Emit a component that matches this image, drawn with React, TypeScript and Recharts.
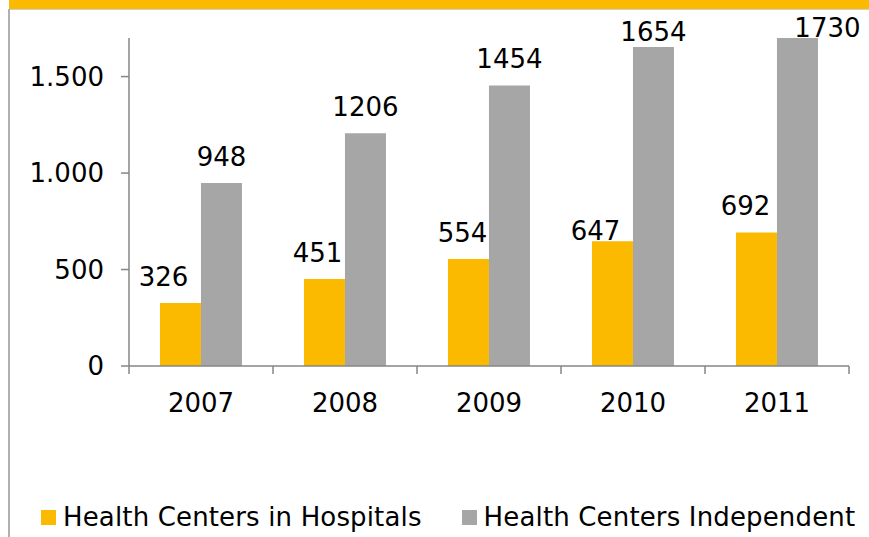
import { Bar, BarChart, LabelList, XAxis, YAxis } from 'recharts'

// Health centers by year, hospital-based vs independent.
// Excel-style look: yellow header strip, boundary ticks, labels nudged by hand.

const years = ['2007', '2008', '2009', '2010', '2011']
const inHospitals = [326, 451, 554, 647, 692]
const independent = [948, 1206, 1454, 1654, 1730]
const seriesNames = ['Health Centers in Hospitals', 'Health Centers Independent']
const yTicks = [0, 500, 1000, 1500]

// hand nudges of the value labels, [dx, dy] per year
const hospitalNudge = [[-17, 0], [-7, 0], [-6, 0], [-17, 16], [-11, 0]]
const independentNudge = [[0, 0], [0, 0], [0, 0], [0, 11], [30, 22]]

const YELLOW = '#fbb900'
const GRAY = '#a6a6a6'
const AXIS = '#868686'
const FONT = '"DejaVu Sans", Verdana, sans-serif'
const FS = 26

const W = 869
const H = 537
const PLOT_LEFT = 129
const PLOT_RIGHT = 20
const PLOT_W = W - PLOT_LEFT - PLOT_RIGHT

const data = years.map((year, i) => ({
  year,
  hospitals: inHospitals[i],
  independent: independent[i],
}))

function fmtThousands(v: number) {
  return String(v).replace(/\B(?=(\d{3})+(?!\d))/g, '.')
}

function makeLabel(nudges: number[][]) {
  return (props: any) => {
    const vb = props.viewBox ?? props
    const i = props.index ?? 0
    const [dx, dy] = nudges[i] ?? [0, 0]
    const cx = vb.x + vb.width / 2 + dx
    const top = Math.min(vb.y, vb.y + vb.height)
    return (
      <text x={cx} y={top - 17 + dy} textAnchor="middle" fontSize={FS} fontFamily={FONT} fill="#000">
        {props.value}
      </text>
    )
  }
}

function YearTick(props: any) {
  const { x, y, payload, index } = props
  const half = PLOT_W / years.length / 2
  const axisY = y - 24
  return (
    <g>
      <line x1={x - half} x2={x - half} y1={axisY} y2={axisY + 8} stroke={AXIS} strokeWidth={1.5} />
      {index === years.length - 1 && (
        <line x1={x + half} x2={x + half} y1={axisY} y2={axisY + 8} stroke={AXIS} strokeWidth={1.5} />
      )}
      <text x={x} y={y + 22} textAnchor="middle" fontSize={FS} fontFamily={FONT} fill="#000">
        {payload.value}
      </text>
    </g>
  )
}

function LegendItem({ color, label }: { color: string; label: string }) {
  return (
    <span style={{ display: 'inline-flex', alignItems: 'center' }}>
      <span style={{ display: 'inline-block', width: 15, height: 15, background: color, marginRight: 7 }} />
      {label}
    </span>
  )
}

export default function App() {
  return (
    <div style={{ position: 'absolute', left: 0, top: 0, width: W, height: H, background: '#fff', overflow: 'hidden' }}>
      <div style={{ position: 'absolute', left: 9, top: 0, width: W - 9, height: 9, background: YELLOW }} />
      <div style={{ position: 'absolute', left: 8, top: 9, width: W - 8, height: 1, background: '#cfcfcf' }} />
      <div style={{ position: 'absolute', left: 8, top: 9, width: 2, height: H - 9, background: '#b0b0b0' }} />

      <div style={{ position: 'absolute', left: 0, top: 0 }}>
        <BarChart
          width={W}
          height={H}
          data={data}
          margin={{ top: 38, right: PLOT_RIGHT, bottom: 131, left: 0 }}
          barCategoryGap="21.5%"
          barGap={0}
        >
          <XAxis
            dataKey="year"
            axisLine={{ stroke: AXIS, strokeWidth: 1.5 }}
            tickLine={false}
            tickSize={8}
            tickMargin={16}
            height={40}
            interval={0}
            tick={<YearTick />}
          />
          <YAxis
            width={PLOT_LEFT}
            domain={[0, 1700]}
            allowDataOverflow
            ticks={yTicks}
            tickFormatter={fmtThousands}
            axisLine={{ stroke: AXIS, strokeWidth: 1.5 }}
            tickLine={{ stroke: AXIS, strokeWidth: 1.5 }}
            tickSize={8}
            tickMargin={17}
            tick={{ fontSize: FS, fontFamily: FONT, fill: '#000' }}
          />
          <Bar dataKey="hospitals" name={seriesNames[0]} fill={YELLOW} isAnimationActive={false}>
            <LabelList dataKey="hospitals" content={makeLabel(hospitalNudge)} />
          </Bar>
          <Bar dataKey="independent" name={seriesNames[1]} fill={GRAY} isAnimationActive={false}>
            <LabelList dataKey="independent" content={makeLabel(independentNudge)} />
          </Bar>
        </BarChart>
      </div>

      <div
        style={{
          position: 'absolute',
          left: 41,
          top: 501,
          display: 'flex',
          gap: 40,
          fontSize: 26,
          letterSpacing: 0.15,
          fontFamily: FONT,
          color: '#000',
          whiteSpace: 'nowrap',
          lineHeight: '32px',
        }}
      >
        <LegendItem color={YELLOW} label={seriesNames[0]} />
        <LegendItem color={GRAY} label={seriesNames[1]} />
      </div>
    </div>
  )
}
